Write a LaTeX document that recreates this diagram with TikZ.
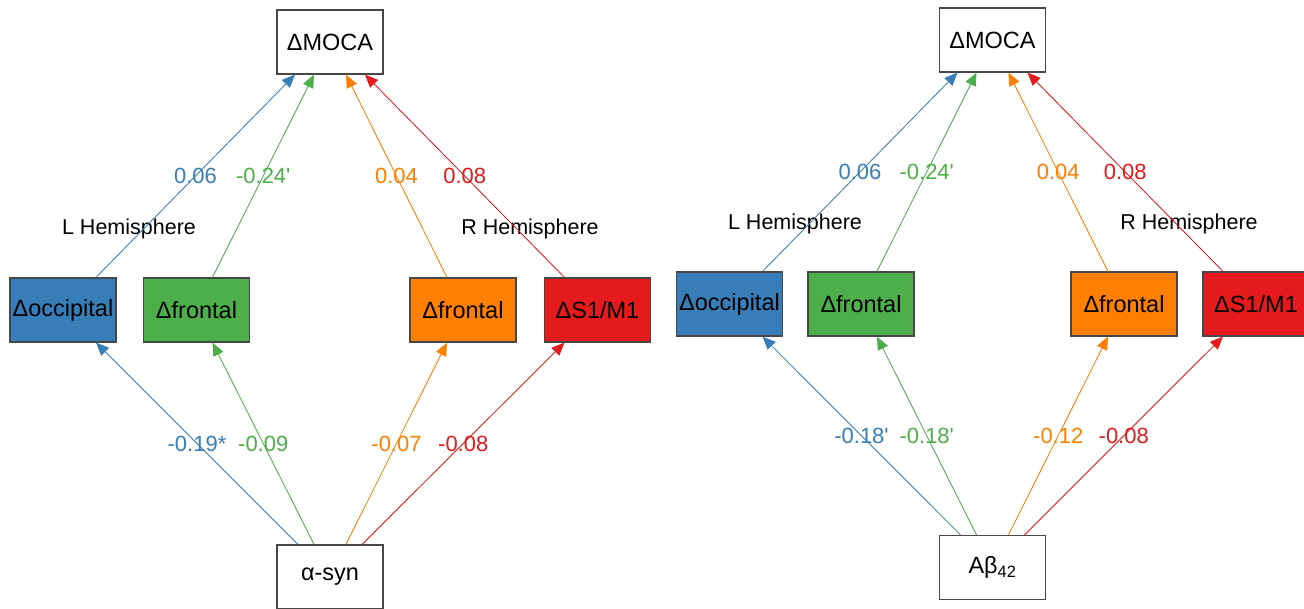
\documentclass[tikz,border=0pt]{standalone}
\usepackage{fontspec}
\setmainfont{Liberation Sans}
\newfontfamily\lsans{Liberation Sans}
\usetikzlibrary{arrows.meta,calc}
\definecolor{cblue}{HTML}{377EB8}
\definecolor{cgreen}{HTML}{4DAF4A}
\definecolor{corange}{HTML}{FF7F00}
\definecolor{cred}{HTML}{E41A1C}
\begin{document}
\begin{tikzpicture}[x=1pt,y=-1pt,
  box/.style={draw=black!72, line width=1.2pt, minimum width=106pt, minimum height=64pt, inner sep=0pt, font=\lsans\fontsize{23.5}{27}\selectfont},
  conn/.style={line width=0.85pt, -{Triangle[length=13pt,width=11pt]}},
  elab/.style={font=\lsans\fontsize{22}{26}\selectfont, inner sep=0pt},
  hemi/.style={font=\lsans\fontsize{21.5}{25}\selectfont, inner sep=0pt}]
\fill[white] (0,0) rectangle (1304,608);
\useasboundingbox (0,0) rectangle (1304,608);

% ---------- left diagram ----------
\node[box] (mocaL) at (330,42) {ΔMOCA};
\node[box, fill=cblue] (occL) at (63,310) {Δoccipital};
\node[box, fill=cgreen] (lfrL) at (196.5,310) {Δfrontal};
\node[box, fill=corange] (rfrL) at (463,310) {Δfrontal};
\node[box, fill=cred] (smL) at (597.5,310) {ΔS1/M1};
\node[box] (synL) at (330,577) {α-syn};

\node[hemi] (lhL) at (129,229) {L Hemisphere};
\node[hemi] (rhL) at (530,229) {R Hemisphere};

\draw[conn, cblue] ($(occL.north)+(33,0)$) -- node[elab]{0.06} ($(mocaL.south)+(-35,0)$);
\draw[conn, cgreen] ($(lfrL.north)+(16,0)$) -- node[elab]{-0.24'} ($(mocaL.south)+(-16,0)$);
\draw[conn, corange] ($(rfrL.north)+(-16,0)$) -- node[elab]{0.04} ($(mocaL.south)+(16,0)$);
\draw[conn, cred] ($(smL.north)+(-33,0)$) -- node[elab]{0.08} ($(mocaL.south)+(35,0)$);

\draw[conn, cblue] ($(synL.north)+(-32,0)$) -- node[elab]{-0.19*} ($(occL.south)+(33,0)$);
\draw[conn, cgreen] ($(synL.north)+(-16,0)$) -- node[elab]{-0.09} ($(lfrL.south)+(16,0)$);
\draw[conn, corange] ($(synL.north)+(16,0)$) -- node[elab]{-0.07} ($(rfrL.south)+(-16,0)$);
\draw[conn, cred] ($(synL.north)+(32,0)$) -- node[elab]{-0.08} ($(smL.south)+(-33,0)$);

% ---------- right diagram ----------
\node[box] (mocaR) at (992.5,40) {ΔMOCA};
\node[box, fill=cblue] (occR) at (729.5,304) {Δoccipital};
\node[box, fill=cgreen] (lfrR) at (861,304) {Δfrontal};
\node[box, fill=corange] (rfrR) at (1124,304) {Δfrontal};
\node[box, fill=cred] (smR) at (1256,304) {ΔS1/M1};
\node[box] (abR) at (992.5,567.5) {Aβ\textsubscript{42}};

\node[hemi] (lhR) at (795,224) {L Hemisphere};
\node[hemi] (rhR) at (1189,224) {R Hemisphere};

\draw[conn, cblue] ($(occR.north)+(33,0)$) -- node[elab]{0.06} ($(mocaR.south)+(-35,0)$);
\draw[conn, cgreen] ($(lfrR.north)+(16,0)$) -- node[elab]{-0.24'} ($(mocaR.south)+(-16,0)$);
\draw[conn, corange] ($(rfrR.north)+(-16,0)$) -- node[elab]{0.04} ($(mocaR.south)+(16,0)$);
\draw[conn, cred] ($(smR.north)+(-33,0)$) -- node[elab]{0.08} ($(mocaR.south)+(35,0)$);

\draw[conn, cblue] ($(abR.north)+(-32,0)$) -- node[elab]{-0.18'} ($(occR.south)+(33,0)$);
\draw[conn, cgreen] ($(abR.north)+(-16,0)$) -- node[elab]{-0.18'} ($(lfrR.south)+(16,0)$);
\draw[conn, corange] ($(abR.north)+(16,0)$) -- node[elab]{-0.12} ($(rfrR.south)+(-16,0)$);
\draw[conn, cred] ($(abR.north)+(32,0)$) -- node[elab]{-0.08} ($(smR.south)+(-33,0)$);
\end{tikzpicture}
\end{document}
